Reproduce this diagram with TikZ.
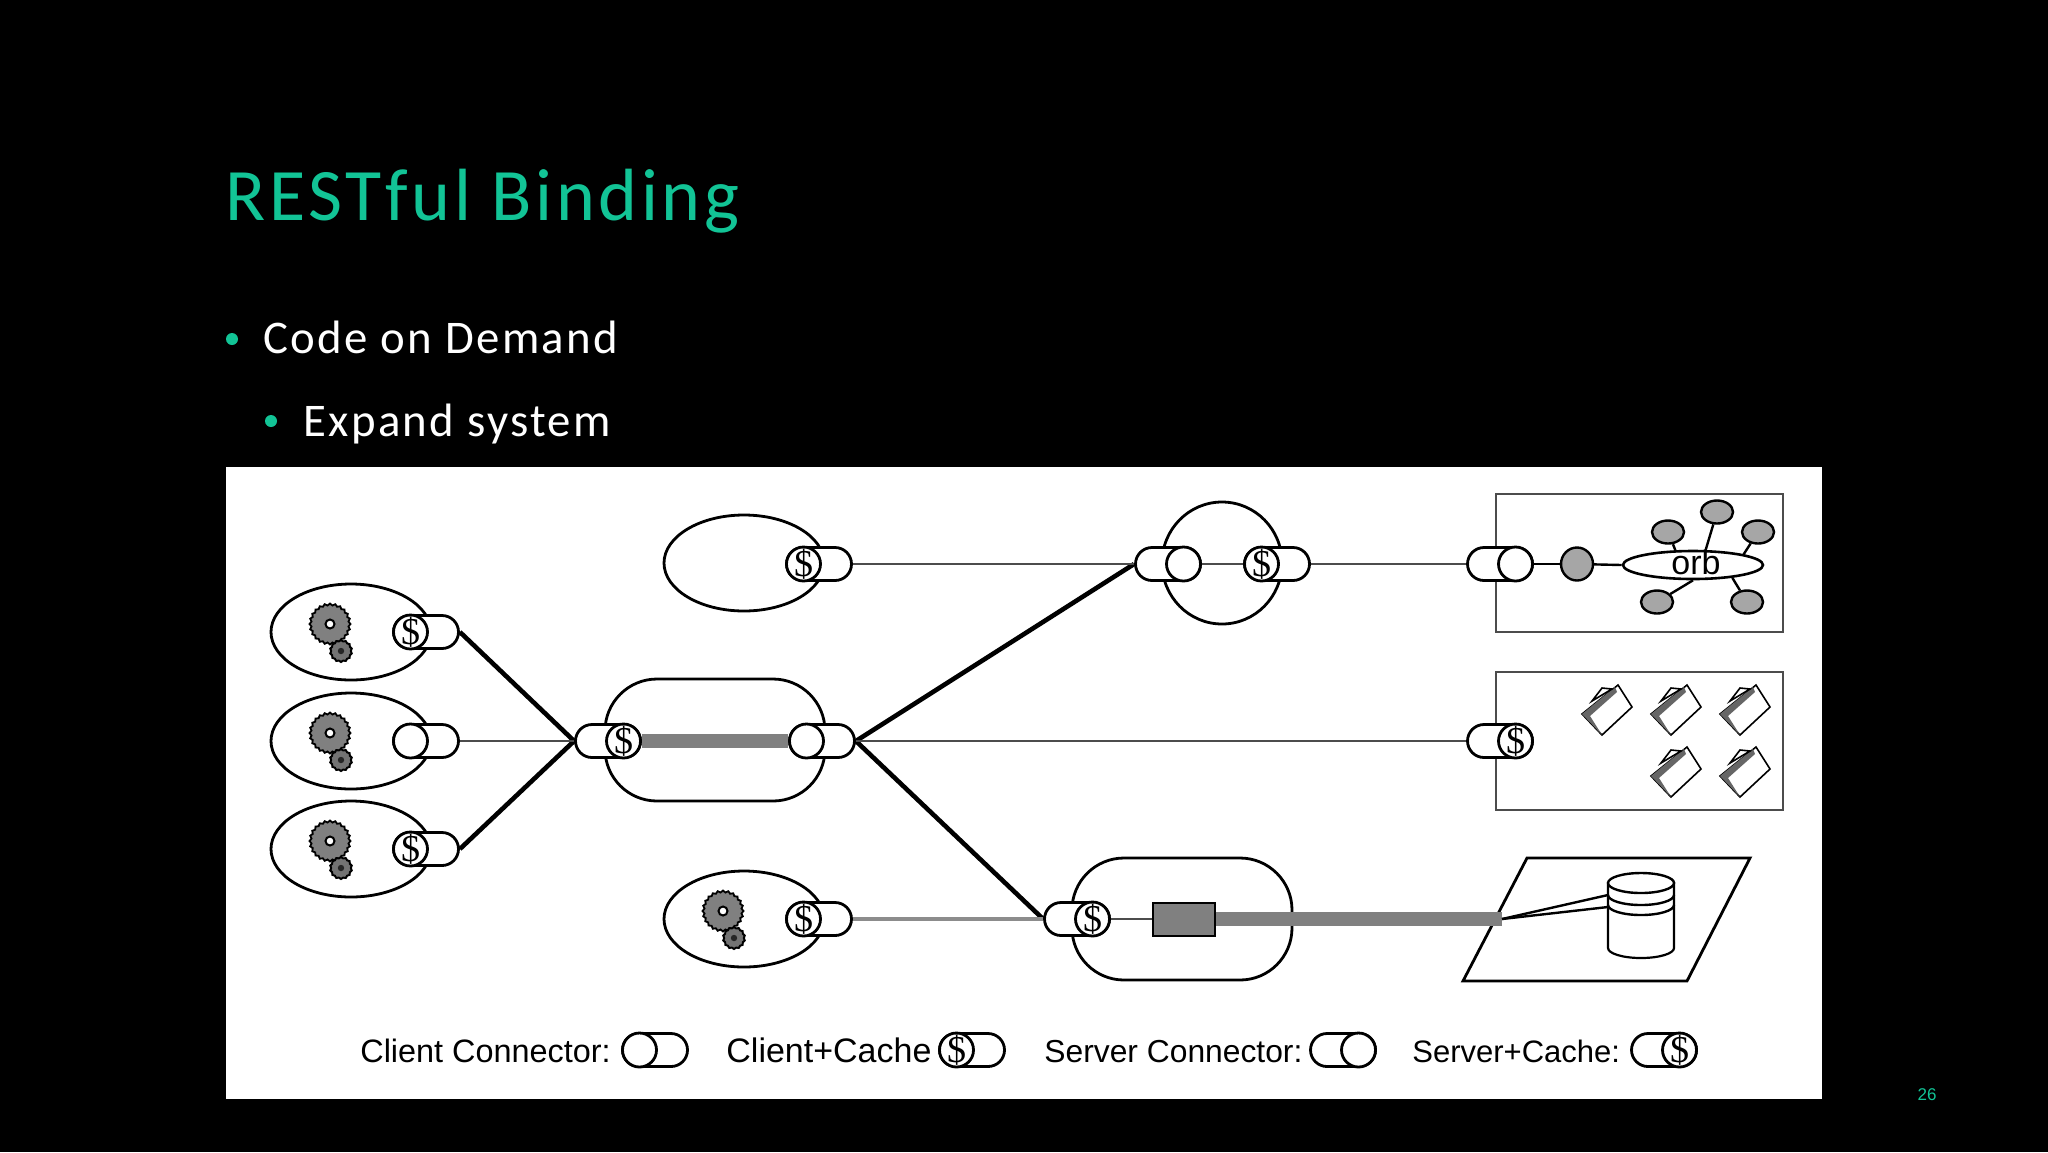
\documentclass[tikz,border=0pt]{standalone}
\usepackage{fontspec}
\setmainfont{Liberation Sans}
\newfontfamily\slidefont[LetterSpace=5]{Carlito}
\newfontfamily\dollarfont{Liberation Serif}
\usetikzlibrary{shapes.geometric,shapes.misc}
\definecolor{slidegreen}{HTML}{12C496}
\tikzset{
  comp/.style={draw,ellipse,fill=white,line width=1.4pt,minimum width=80pt,minimum height=48pt,inner sep=0pt},
  blob/.style={draw,rectangle,fill=white,line width=1.4pt,rounded corners=26pt,minimum width=110pt,minimum height=61pt,inner sep=0pt},
  capsule/.style={draw,rounded rectangle,fill=white,line width=1.4pt,minimum width=32.5pt,minimum height=16.5pt,inner sep=0pt},
  disk/.style={draw,ellipse,fill=white,line width=1.4pt,minimum width=17pt,minimum height=17pt,inner sep=0pt,font=\dollarfont\fontsize{19}{19}\selectfont},
  thinlink/.style={draw=black!70,line width=1pt},
  thicklink/.style={draw=black,line width=2.3pt},
  graybar/.style={draw=black!50,line width=7pt},
  bigbox/.style={draw=black!70,rectangle,line width=1pt,minimum width=143.5pt,minimum height=69pt,inner sep=0pt},
  gearbig/.style={draw,star,star points=24,star point ratio=1.1,fill=black!50,line width=.9pt,minimum size=20.5pt,inner sep=0pt},
  gearsmall/.style={draw,star,star points=14,star point ratio=1.12,fill=black!55,line width=1pt,minimum size=11pt,inner sep=0pt},
  gearhole/.style={draw,circle,fill=white,line width=1pt,minimum size=4.5pt,inner sep=0pt},
  gearpin/.style={circle,fill=black!85,minimum size=3.2pt,inner sep=0pt},
  satellite/.style={draw,ellipse,fill=black!35,line width=1.2pt,minimum width=16pt,minimum height=11.5pt,inner sep=0pt},
  legend/.style={anchor=base west,inner sep=0pt,font=\fontsize{16.2}{16}\selectfont},
  bulletdot/.style={circle,fill=slidegreen,minimum size=6pt,inner sep=0pt},
  slidetext/.style={anchor=base west,inner sep=0pt,text=white,font=\slidefont\fontsize{23.4}{23}\selectfont},
}
\newcommand{\cachemark}{\raisebox{-.33em}[0pt][0pt]{\makebox[0pt]{\$}}}
\newcommand{\connector}[4]{
  \node[capsule] (#1) at (#2) {};
  \node[disk] (#1d) at ([xshift=#3]#1.center) {#4};
}
\newcommand{\gears}[2]{
  \node[gearbig] (#1big) at ([shift={(-21,-8)}]#2) {};
  \node[gearhole] (#1hole) at (#1big.center) {};
  \node[gearsmall] (#1small) at ([shift={(-10,19)}]#2) {};
  \node[gearpin] (#1pin) at (#1small.center) {};
}
\newcommand{\folder}[2]{
  \coordinate (#1) at (#2);
  \draw[line width=.8pt,fill=white] ([shift={(13,-25)}]#1) -- ([shift={(27,-3)}]#1) -- ([shift={(-3,25)}]#1) -- ([shift={(-23,4)}]#1) -- cycle;
  \fill[black!60] ([shift={(-23,4)}]#1) -- ([shift={(10,-23)}]#1) -- ([shift={(12,-18)}]#1) -- ([shift={(-15,6)}]#1) -- ([shift={(-3,25)}]#1) -- cycle;
  \draw[line width=.8pt,fill=white] ([shift={(-13,-9)}]#1) -- ([shift={(-3,-22)}]#1) -- ([shift={(7,-21)}]#1) -- cycle;
}
\begin{document}
\begin{tikzpicture}[x=0.5pt,y=-0.5pt]
  \fill[black] (0,0) rectangle (2048,1152);
  \useasboundingbox (0,0) rectangle (2048,1152);

  \node[anchor=base west,inner sep=0pt,text=slidegreen,font=\slidefont\fontsize{37}{37}\selectfont] (title) at (225,220) {RESTful Binding};
  \node[bulletdot] (bullet1) at (232,339) {};
  \node[slidetext] (line1) at (263,353) {Code on Demand};
  \node[bulletdot] (bullet2) at (271,421) {};
  \node[slidetext] (line2) at (303,436) {Expand system};
  \node[anchor=center,text=slidegreen,inner sep=0pt,font=\fontsize{8.5}{9}\selectfont] (pagenum) at (1927,1095) {26};
  \node[fill=white,minimum width=798pt,minimum height=316pt,inner sep=0pt] (panel) at (1024,782.5) {};

  \node[comp] (clientA) at (351,632) {};
  \node[comp] (clientB) at (351,741) {};
  \node[comp] (clientC) at (351,849) {};
  \node[comp] (clientTop) at (744,563) {};
  \node[comp] (clientLow) at (744,919) {};
  \node[blob] (gateway) at (715,740) {};
  \node[blob] (origin) at (1182,919) {};
  \node[comp,minimum width=60pt,minimum height=61pt] (proxy) at (1222,563) {};
  \node[bigbox] (orbbox) at (1639.5,563) {};
  \node[bigbox] (filebox) at (1639.5,741) {};

  \gears{gearA}{clientA.center}
  \gears{gearB}{clientB.center}
  \gears{gearC}{clientC.center}
  \gears{gearLow}{clientLow.center}

  \connector{capA}{426,632}{-7.75pt}{\cachemark}
  \connector{capB}{426,741}{-7.75pt}{}
  \connector{capC}{426,849}{-7.75pt}{\cachemark}
  \connector{capTop}{819,564}{-7.75pt}{\cachemark}
  \connector{capLow}{819,919}{-7.75pt}{\cachemark}
  \connector{capIn}{608,741}{7.75pt}{\cachemark}
  \connector{capOut}{822,741}{-7.75pt}{}
  \connector{capProxyIn}{1168,564}{7.75pt}{}
  \connector{capProxyOut}{1277,564}{-7.75pt}{\cachemark}
  \connector{capOrb}{1500,564}{7.75pt}{}
  \connector{capFile}{1500,741}{7.75pt}{\cachemark}
  \connector{capOrigin}{1077,919}{7.75pt}{\cachemark}

  \draw[thicklink] (capA.east) -- (capIn.west);
  \draw[thicklink] (capC.east) -- (capIn.west);
  \draw[thinlink] (capB.east) -- (capIn.west);
  \draw[graybar] (capInd.east) -- (capOutd.west);
  \draw[thicklink] (capOut.east) -- (capProxyIn.west);
  \draw[thicklink] (capOut.east) -- (capOrigin.west);
  \draw[thinlink] (capOut.east) -- (capFile.west);
  \draw[thinlink] (capTop.east) -- (capProxyIn.west);
  \draw[thinlink] (capProxyInd.east) -- (capProxyOutd.west);
  \draw[thinlink] (capProxyOut.east) -- (capOrb.west);
  \draw[draw=black!45,line width=1.6pt] (capLow.east) -- (capOrigin.west);

  \node[ellipse,draw,fill=black!35,line width=1.2pt,minimum width=16pt,minimum height=16.5pt,inner sep=0pt] (stub) at (1577,564) {};
  \node[ellipse,draw,fill=white,line width=1.3pt,minimum width=70pt,minimum height=14pt,inner sep=0pt] (orb) at (1693,565) {};
  \node[inner sep=0pt,font=\fontsize{17}{17}\selectfont] (orblabel) at (1696,562) {orb};
  \node[satellite] (sat1) at (1668,532) {};
  \node[satellite] (sat2) at (1717,512) {};
  \node[satellite] (sat3) at (1758,532) {};
  \node[satellite] (sat4) at (1657,602) {};
  \node[satellite] (sat5) at (1747,602) {};
  \draw[line width=1.2pt] (capOrb.east) -- (stub);
  \draw[line width=1.2pt] (stub) -- (orb.west);
  \draw[line width=1.2pt] (sat1) -- (orb.140);
  \draw[line width=1.2pt] (sat2) -- (orb.50);
  \draw[line width=1.2pt] (sat3) -- (orb.12);
  \draw[line width=1.2pt] (sat4) -- (orb.south);
  \draw[line width=1.2pt] (sat5) -- (orb.-18);

  \folder{file1}{1605,710}
  \folder{file2}{1674,710}
  \folder{file3}{1743,710}
  \folder{file4}{1674,772}
  \folder{file5}{1743,772}

  \node[draw,fill=black!50,line width=1pt,minimum width=31pt,minimum height=16.5pt,inner sep=0pt] (cache) at (1183.5,919) {};
  \draw[thinlink] (capOrigin.east) -- (cache.west);
  \coordinate (diskport) at (1502,919);
  \draw[fill=white,line width=1.4pt] (1527,858) coordinate (plane1) -- (1750,858) coordinate (plane2) -- (1687,981) coordinate (plane3) -- (1463,981) coordinate (plane4) -- cycle;
  \draw[graybar] (cache.east) -- (diskport);
  \draw[fill=white,line width=1.1pt] (1608,883) -- (1608,948) arc[start angle=180,end angle=0,x radius=33,y radius=10] -- (1674,883) -- cycle;
  \draw[fill=white,line width=1.2pt] (1641,883) ellipse[x radius=33,y radius=10];
  \draw[line width=1.2pt] (1608,895) arc[start angle=180,end angle=0,x radius=33,y radius=10];
  \draw[line width=1.2pt] (1608,905) arc[start angle=180,end angle=0,x radius=33,y radius=10];
  \coordinate (dbtop) at (1608,895);
  \coordinate (dbmid) at (1608,907);
  \draw[line width=1.2pt] (diskport) -- (dbtop);
  \draw[line width=1.2pt] (diskport) -- (dbmid);

  \node[legend] (legend1) at (360,1062) {Client Connector:};
  \connector{keyA}{655,1050}{-7.75pt}{}
  \node[legend,font=\fontsize{17}{16}\selectfont] (legend2) at (726,1062) {Client+Cache};
  \connector{keyB}{972,1050}{-7.75pt}{\cachemark}
  \node[legend,font=\fontsize{15.9}{16}\selectfont] (legend3) at (1044,1062) {Server Connector:};
  \connector{keyC}{1343,1050}{7.75pt}{}
  \node[legend,font=\fontsize{15.5}{16}\selectfont] (legend4) at (1412,1062) {Server+Cache:};
  \connector{keyD}{1664,1050}{7.75pt}{\cachemark}
\end{tikzpicture}
\end{document}
